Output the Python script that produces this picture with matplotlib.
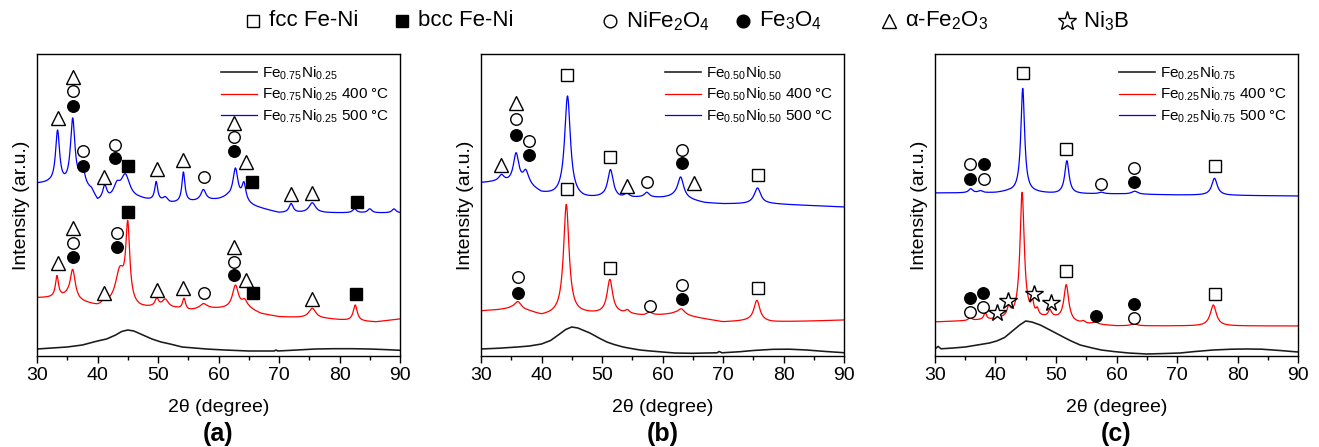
import matplotlib
matplotlib.use('Agg')
import matplotlib.pyplot as plt
from matplotlib.ticker import MultipleLocator
import numpy as np

plt.rcParams['font.family'] = ['Liberation Sans', 'DejaVu Sans']
plt.rcParams['mathtext.fontset'] = 'custom'
plt.rcParams['mathtext.rm'] = 'Liberation Sans'
plt.rcParams['mathtext.it'] = 'Liberation Sans:italic'
plt.rcParams['mathtext.bf'] = 'Liberation Sans:bold'

# ---- data (intensity in arbitrary units) ----
# as-milled samples: broad amorphous-like hump
black_a_x = [30, 32.5, 35, 37.5, 40, 41.5, 43, 44, 45, 46, 47.5, 49, 50.5, 52, 54, 56, 58, 61, 65, 68, 69.2, 69.5, 69.8, 73, 76, 79, 82, 85, 88, 90]
black_a_y = [4, 5, 6, 8, 12, 14, 18, 21.5, 23, 22, 18, 14, 11, 9, 6, 5, 4, 3, 2, 2, 2, 3, 2, 3, 4, 4.3, 4.3, 4, 3.3, 2.7]
black_b_x = [30, 33, 36, 38, 40, 41.5, 43, 44, 45, 46, 47, 48, 49.5, 50.8, 52, 53.5, 55, 56.3, 58, 60, 62, 65, 67.3, 69, 69.4, 69.8, 72.8, 75, 78.3, 81, 83.8, 87, 90]
black_b_y = [4, 4.8, 6, 7, 9, 12.5, 19, 23.5, 26, 25, 22.5, 20, 15, 11, 8.5, 6, 4.3, 3, 2, 1, 0, -0.3, 0, 0.2, 1.5, 0.2, 1.3, 2.5, 3.7, 3.8, 3, 1.5, 0.3]
black_c_x = [30, 30.5, 31, 33, 35, 37, 39, 40.2, 41.5, 43, 44, 45, 46, 47.4, 49, 51.2, 52.5, 54, 56, 57.5, 59.5, 62, 65, 68, 70.5, 73, 76, 79, 81.5, 84, 87, 90]
black_c_y = [4, 6.6, 4.2, 5, 6, 8, 10, 12, 15.5, 23, 28, 32, 31, 28, 23, 16, 12, 8, 5, 3, 1.5, 0, -1, -0.5, 0, 1.5, 3, 3.8, 4, 3.8, 2.5, 1]

# annealed samples: background points and (position, height, fwhm) of peaks
red_a_bx = [30, 33, 35, 37, 40, 42, 47, 50, 53, 55, 58, 61, 65, 67, 70, 74, 78, 82, 86, 90]
red_a_by = [55, 55, 56, 51, 46, 47, 44, 45, 44, 42, 44, 44, 44, 39, 36, 35, 34, 32, 31, 34]
red_a_pk = [(33.3, 21, 0.6), (35.9, 29, 1.0), (41.1, 5, 0.6), (43.7, 34, 1.8), (45.0, 76, 0.8),
            (49.8, 8, 0.7), (51.2, 8, 1.2), (54.3, 11, 0.6), (57.5, 5, 1.4), (62.8, 23, 1.2),
            (64.3, 7, 1.0), (75.5, 10, 1.4), (82.6, 16, 0.8)]
blue_a_bx = [30, 32, 39, 40, 43, 47, 52, 56, 60, 61.5, 66, 70, 78, 90]
blue_a_by = [169, 169, 161, 150, 152, 153, 149, 151, 153, 155, 146, 140, 140, 140]
blue_a_pk = [(33.4, 53, 0.8), (35.9, 67, 0.9), (37.5, 20, 1.0), (41.2, 14, 0.8), (43.2, 12, 1.3),
             (44.6, 24, 1.8), (49.7, 19, 0.6), (51.2, 5, 1.0), (54.2, 30, 0.6), (57.5, 11, 1.0),
             (62.8, 31, 1.0), (64.2, 18, 0.8), (72.0, 9, 0.8), (75.5, 10, 1.3), (82.5, 4, 0.8),
             (85.0, 4, 0.8), (89.0, 4, 0.8)]

red_b_bx = [30, 33, 35, 38, 40, 42, 47, 50, 54, 57, 60, 62, 65, 67, 70, 74, 78, 85, 90]
red_b_by = [42, 43, 44, 41, 37, 38, 39, 39, 39, 37, 38, 39, 36, 34, 31, 32, 31, 32, 33]
red_b_pk = [(36.1, 8, 1.4), (44.1, 110, 1.1), (51.3, 34, 1.1), (54.2, 3, 0.8), (57.8, 3, 1.2),
            (63.1, 6, 1.4), (75.6, 21, 1.2)]
blue_b_bx = [30, 33, 38, 40, 42, 47, 50, 53, 56, 60, 62, 67, 70, 74, 78, 90]
blue_b_by = [170, 171, 166, 159, 157, 154, 155, 154, 155, 155, 156, 150, 149, 149, 149, 146]
blue_b_pk = [(33.4, 6, 1.0), (35.8, 30, 1.1), (37.4, 13, 1.1), (44.3, 101, 1.15), (51.4, 28, 1.1),
             (54.1, 4, 1.0), (57.4, 5, 1.0), (63.0, 21, 1.2), (75.7, 16, 1.3)]

red_c_bx = [30, 35, 38, 40, 42, 47, 50, 53, 55, 60, 65, 70, 75, 80, 90]
red_c_by = [31, 32, 33, 33, 35, 35, 34, 30, 29, 27, 27, 27, 27, 27, 27]
red_c_pk = [(35.8, 3, 0.6), (38.3, 7, 0.5), (40.2, 3, 0.5), (42.2, 9, 0.6), (44.4, 125, 0.85),
            (46.1, 12, 0.5), (46.9, 6, 0.5), (49.0, 7, 0.7), (51.7, 36, 0.95), (54.5, 2, 0.6),
            (56.5, 2, 1.0), (62.9, 2, 1.2), (76.0, 21, 1.2)]
blue_c_bx = [30, 40, 42, 47, 50, 54, 60, 70, 90]
blue_c_by = [160, 160, 161, 160, 159, 159, 159, 158, 157]
blue_c_pk = [(35.9, 4, 0.8), (37.5, 2, 0.8), (44.5, 104, 0.75), (51.8, 33, 0.85), (57.5, 1.5, 1.0),
             (63.0, 3, 1.2), (76.2, 17, 1.1)]

# phase markers: (2theta, height, kind)
marks_a_blue = [(33.4, 235, 'tri'), (35.9, 276, 'tri'), (35.9, 262, 'oc'), (35.9, 247, 'fc'),
                (37.6, 202, 'oc'), (37.6, 187, 'fc'), (41.1, 176, 'tri'), (42.9, 208, 'oc'),
                (42.9, 195, 'fc'), (45.0, 187, 'fs'), (49.8, 184, 'tri'), (54.2, 193, 'tri'),
                (57.6, 176, 'oc'), (62.6, 230, 'tri'), (62.6, 216, 'oc'), (62.6, 202, 'fc'),
                (64.5, 191, 'tri'), (65.5, 171, 'fs'), (72.0, 159, 'tri'), (75.5, 160, 'tri'),
                (82.9, 151, 'fs')]
marks_a_red = [(33.4, 90, 'tri'), (35.9, 125, 'tri'), (35.9, 110, 'oc'), (35.9, 96, 'fc'),
               (41.1, 60, 'tri'), (43.3, 120, 'oc'), (43.3, 106, 'fc'), (45.0, 141, 'fs'),
               (49.9, 63, 'tri'), (54.2, 65, 'tri'), (57.6, 60, 'oc'), (62.6, 106, 'tri'),
               (62.6, 91, 'oc'), (62.6, 78, 'fc'), (64.5, 73, 'tri'), (65.7, 60, 'fs'),
               (75.4, 54, 'tri'), (82.7, 59, 'fs')]
marks_b_blue = [(33.3, 188, 'tri'), (35.8, 250, 'tri'), (35.8, 234, 'oc'), (35.8, 218, 'fc'),
                (37.9, 212, 'oc'), (37.9, 198, 'fc'), (44.2, 278, 'os'), (51.4, 196, 'os'),
                (54.2, 167, 'tri'), (57.4, 171, 'oc'), (63.2, 203, 'oc'), (63.2, 190, 'fc'),
                (65.2, 170, 'tri'), (75.8, 178, 'os')]
marks_b_red = [(36.1, 76, 'oc'), (36.1, 60, 'fc'), (44.2, 164, 'os'), (51.4, 85, 'os'),
               (57.9, 47, 'oc'), (63.2, 68, 'oc'), (63.2, 54, 'fc'), (75.8, 65, 'os')]
marks_c_blue = [(35.8, 189, 'oc'), (35.8, 174, 'fc'), (38.1, 189, 'fc'), (38.1, 174, 'oc'),
                (44.5, 280, 'os'), (51.7, 204, 'os'), (57.4, 169, 'oc'), (62.9, 185, 'oc'),
                (62.9, 171, 'fc'), (76.3, 187, 'os')]
marks_c_red = [(35.8, 55, 'fc'), (35.8, 41, 'oc'), (37.9, 60, 'fc'), (37.9, 46, 'oc'),
               (40.2, 40, 'star'), (42.1, 52, 'star'), (46.4, 59, 'star'), (49.2, 50, 'star'),
               (51.7, 82, 'os'), (56.6, 37, 'fc'), (62.9, 49, 'fc'), (62.9, 35, 'oc'),
               (76.3, 59, 'os')]

alloys = [('0.75', '0.25'), ('0.50', '0.50'), ('0.25', '0.75')]
panel_tags = ['(a)', '(b)', '(c)']

phase_kinds = ['os', 'fs', 'oc', 'fc', 'tri', 'star']
phase_names = ['fcc Fe-Ni', 'bcc Fe-Ni', r'NiFe$_\mathregular{2}$O$_\mathregular{4}$',
               r'Fe$_\mathregular{3}$O$_\mathregular{4}$', r'α-Fe$_\mathregular{2}$O$_\mathregular{3}$',
               r'Ni$_\mathregular{3}$B']

STYLE = {
    'os': dict(marker='s', ms=8.5, mfc='white'),
    'fs': dict(marker='s', ms=8.5, mfc='black'),
    'oc': dict(marker='o', ms=8.3, mfc='white'),
    'fc': dict(marker='o', ms=8.3, mfc='black'),
    'tri': dict(marker='^', ms=9.5, mfc='white'),
    'star': dict(marker='*', ms=13, mfc='white'),
}


def pattern(x, bx, by, peaks):
    y = np.interp(x, bx, by)
    for pos, amp, fw in peaks:
        hw = fw / 2.0
        y = y + amp * hw ** 2 / ((x - pos) ** 2 + hw ** 2)
    return y


def draw_marks(ax, marks):
    for x, y, kind in marks:
        ax.plot([x], [y], ls='none', mec='black', mew=1.0, zorder=5, **STYLE[kind])


fig = plt.figure(figsize=(13.19, 4.47), dpi=100)
W, H = 1319.0, 447.0
lefts = [37, 481, 935]

tt = np.linspace(30, 90, 3001)
blacks = [(black_a_x, black_a_y), (black_b_x, black_b_y), (black_c_x, black_c_y)]
reds = [(red_a_bx, red_a_by, red_a_pk), (red_b_bx, red_b_by, red_b_pk), (red_c_bx, red_c_by, red_c_pk)]
blues = [(blue_a_bx, blue_a_by, blue_a_pk), (blue_b_bx, blue_b_by, blue_b_pk), (blue_c_bx, blue_c_by, blue_c_pk)]
marks = [(marks_a_blue, marks_a_red), (marks_b_blue, marks_b_red), (marks_c_blue, marks_c_red)]

for i in range(3):
    ax = fig.add_axes([lefts[i] / W, 1 - 356 / H, 363 / W, 302 / H])
    fe, ni = alloys[i]
    name = r'Fe$_\mathregular{%s}$Ni$_\mathregular{%s}$' % (fe, ni)
    ax.plot(blacks[i][0], blacks[i][1], color='#1a1a1a', lw=1.15, label=name)
    ax.plot(tt, pattern(tt, *reds[i]), color='#ff0000', lw=0.9, label=name + ' 400 °C')
    ax.plot(tt, pattern(tt, *blues[i]), color='#0000ff', lw=0.9, label=name + ' 500 °C')
    draw_marks(ax, marks[i][0])
    draw_marks(ax, marks[i][1])

    ax.set_xlim(30, 90)
    ax.set_ylim(-3, 299)
    ax.xaxis.set_major_locator(MultipleLocator(10))
    ax.xaxis.set_minor_locator(MultipleLocator(5))
    ax.tick_params(axis='x', which='major', direction='out', length=5, width=1, labelsize=14, pad=3)
    ax.tick_params(axis='x', which='minor', direction='out', length=3, width=1)
    ax.set_yticks([])
    for s in ax.spines.values():
        s.set_linewidth(1.0)
    ax.set_xlabel('2θ (degree)', fontsize=14, labelpad=11)
    ax.set_ylabel('Intensity (ar.u.)', fontsize=14, labelpad=5)
    ax.legend(loc='upper right', frameon=False, fontsize=11, handlelength=2.4,
              handletextpad=0.3, labelspacing=0.25, borderaxespad=0.3)
    fig.text((lefts[i] + 181.5) / W, 1 - 434 / H, panel_tags[i], ha='center', va='center',
             fontsize=18, fontweight='bold')

# phase key across the top
key = fig.add_axes([0, 1 - 42 / H, 1, 42 / H])
key.set_xlim(0, W)
key.set_ylim(42, 0)
key.axis('off')
key_x = [253, 402, 610, 743, 889, 1067]
for kx, kind, label in zip(key_x, phase_kinds, phase_names):
    st = dict(STYLE[kind])
    st['ms'] = st['ms'] * 1.1
    key.plot([kx], [21], ls='none', mec='black', mew=1.0, clip_on=False, **st)
    key.text(kx + 16, 21, label, ha='left', va='center', fontsize=16)

fig.savefig('out.png', dpi=100)
